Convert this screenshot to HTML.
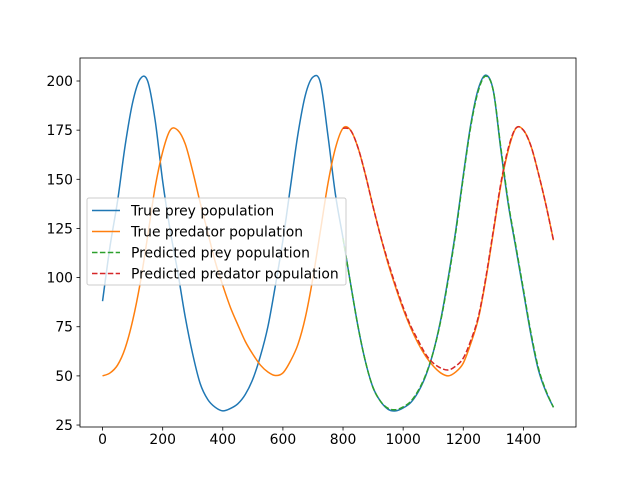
<!DOCTYPE html>
<html><head><meta charset="utf-8"><style>
body{margin:0;background:#fff;}
svg{display:block;font-family:"DejaVu Sans","Liberation Sans",sans-serif;}
</style></head><body>
<svg id="chart" width="640" height="480" viewBox="0 0 640 480">
<rect x="0" y="0" width="640" height="480" fill="#fff"/>
<g id="plot"></g>
<g id="axes"></g>
<g id="legend"></g>
</svg>
<script>
const times = [];
for (let t = 0; t <= 1500; t += 25) times.push(t);
const truePrey = [88,116,139,167,189,201,200,180,149,124,103,80,61,46,38,34,32.2,33.4,35.8,40.6,48.4,60,75,96,119,146,173,193,202,199,172,142,120,97,75,57,44,37,33,32.2,33.7,36.4,41.8,50,62,78.6,100,124,152,178,196,203,195,165,137,115,93,71,53,42,34];
const truePred = [50,51.5,55.5,64,78,97,121,146,164,175,175,168,154,138,123,108,96,85,76,67.5,61,55.5,52,50.2,51.5,57.5,66,80,100,124,148,166,176,175,166,152,136,121,107,95,84,74.5,66.5,60,55,51.5,50,52,56.5,66.5,79,99,123,147,165,176,175,167,153,137,119];
const predTimes = [800,825,850,875,900,925,950,975,1000,1025,1050,1075,1100,1125,1150,1175,1200,1225,1250,1275,1300,1325,1350,1375,1400,1425,1450,1475,1500];
const predPrey = [120,97,75,57,44,37,33.5,32.8,34.2,37,42.5,50.5,62,78,99,123,151,177,195,202.5,195,166,138,116,94,72,54,42.5,34];
const predPred = [176,175,166,152,136,121,108,96,85,75.5,68,61,56.5,54,53,55,59,68,80,100,124,148,166,176,175,167,153,137,119];
const xTicks = [0,200,400,600,800,1000,1200,1400];
const yTicks = [25,50,75,100,125,150,175,200];

const L=80,R=576,T=58,B=427;
const xMin=-75,xMax=1575,yMin=24,yMax=211.7;
const sx=v=>L+(v-xMin)/(xMax-xMin)*(R-L);
const sy=v=>B-(v-yMin)/(yMax-yMin)*(B-T);
const NS='http://www.w3.org/2000/svg';
function mk(tag,attrs,parent){const e=document.createElementNS(NS,tag);for(const k in attrs)e.setAttribute(k,attrs[k]);parent.appendChild(e);return e;}
function smoothPath(xs,ys){
  const p=xs.map((x,i)=>[sx(x),sy(ys[i])]);
  let d='M'+p[0][0].toFixed(2)+','+p[0][1].toFixed(2);
  for(let i=0;i<p.length-1;i++){
    const p0=p[Math.max(0,i-1)],p1=p[i],p2=p[i+1],p3=p[Math.min(p.length-1,i+2)];
    const c1x=p1[0]+(p2[0]-p0[0])/6,c1y=p1[1]+(p2[1]-p0[1])/6;
    const c2x=p2[0]-(p3[0]-p1[0])/6,c2y=p2[1]-(p3[1]-p1[1])/6;
    d+=' C'+c1x.toFixed(2)+','+c1y.toFixed(2)+' '+c2x.toFixed(2)+','+c2y.toFixed(2)+' '+p2[0].toFixed(2)+','+p2[1].toFixed(2);
  }
  return d;
}
const plot=document.getElementById('plot');
const series=[
 {name:'true-prey-line',xs:times,ys:truePrey,c:'#1f77b4',dash:null},
 {name:'true-predator-line',xs:times,ys:truePred,c:'#ff7f0e',dash:null},
 {name:'predicted-prey-line',xs:predTimes,ys:predPrey,c:'#2ca02c',dash:'5.5,2.4'},
 {name:'predicted-predator-line',xs:predTimes,ys:predPred,c:'#d62728',dash:'5.5,2.4'}
];
series.forEach(s=>{
  const a={d:smoothPath(s.xs,s.ys),fill:'none',stroke:s.c,'stroke-width':'1.5'};
  if(s.dash)a['stroke-dasharray']=s.dash;
  const el=mk('path',a,plot);
  
  
});
const axes=document.getElementById('axes');
const frame=mk('rect',{x:L,y:T,width:R-L,height:B-T,fill:'none',stroke:'#000','stroke-width':'0.8'},axes);


xTicks.forEach(v=>{
  const x=sx(v);
  const tk=mk('line',{x1:x,y1:B,x2:x,y2:B+3.5,stroke:'#000','stroke-width':'0.8'},axes);
  
  
  const tx=mk('text',{x:x,y:B+17,'font-size':'13.9','text-anchor':'middle',fill:'#000'},axes);
  tx.textContent=v;
  
  
});
yTicks.forEach(v=>{
  const y=sy(v);
  const tk=mk('line',{x1:L-3.5,y1:y,x2:L,y2:y,stroke:'#000','stroke-width':'0.8'},axes);
  
  
  const tx=mk('text',{x:L-7,y:y+5,'font-size':'13.9','text-anchor':'end',fill:'#000'},axes);
  tx.textContent=v;
  
  
});
const lg=document.getElementById('legend');
const box=mk('rect',{x:87,y:198,width:259,height:87,rx:2,fill:'#fff','fill-opacity':'0.8',stroke:'#ccc','stroke-width':'1'},lg);


const labels=['True prey population','True predator population','Predicted prey population','Predicted predator population'];
labels.forEach((lab,i)=>{
  const y=210.5+i*21;
  const s=series[i];
  const a={x1:92,y1:y,x2:120,y2:y,stroke:s.c,'stroke-width':'1.5'};
  if(s.dash)a['stroke-dasharray']=s.dash;
  const ln=mk('line',a,lg);
  
  
  const tx=mk('text',{x:131,y:y+5,'font-size':'13.9',fill:'#000'},lg);
  tx.textContent=lab;
  
  
});
</script>
</body></html>
